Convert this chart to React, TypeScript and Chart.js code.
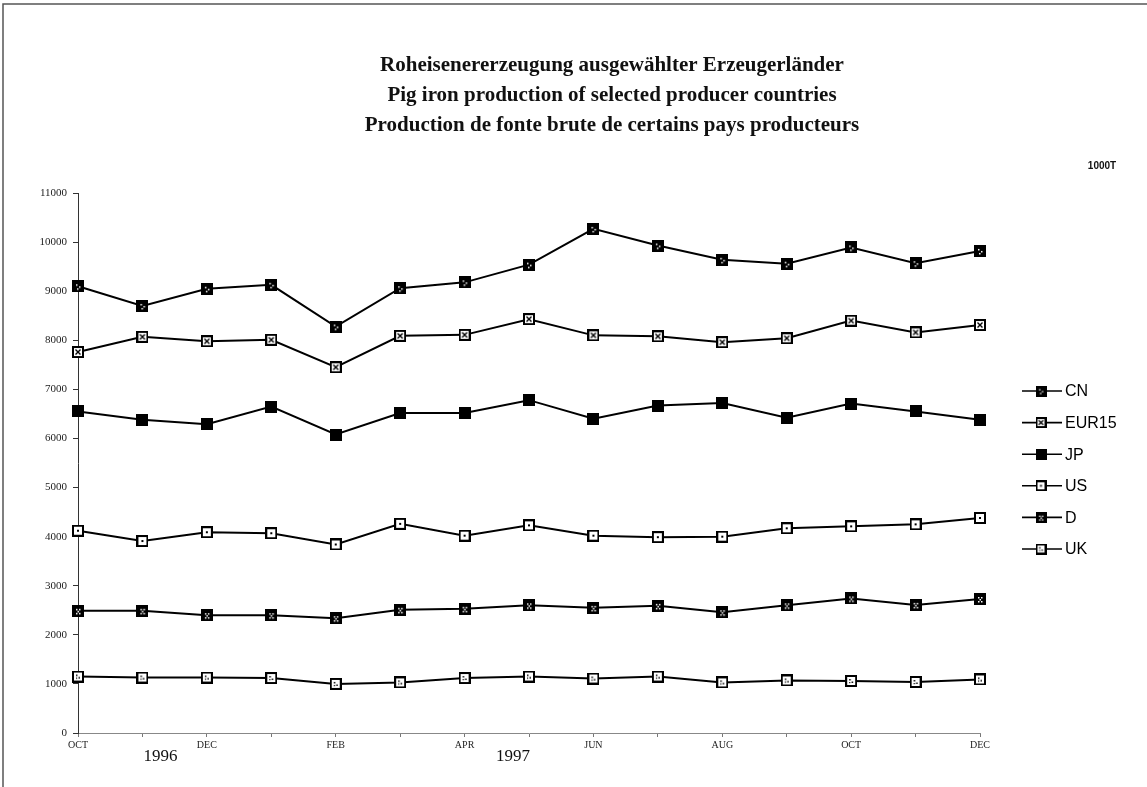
import React, { useEffect, useRef } from "react";
import { Chart, registerables } from "chart.js";

Chart.register(...registerables);

const months = ["OCT", "NOV", "DEC", "JAN", "FEB", "MAR", "APR", "MAY", "JUN", "JUL", "AUG", "SEP", "OCT", "NOV", "DEC"];
const tickLabels = ["OCT", "", "DEC", "", "FEB", "", "APR", "", "JUN", "", "AUG", "", "OCT", "", "DEC"];
const yearLabels = ["1996", "1997"];
const titleLines = [
  "Roheisenererzeugung ausgewählter Erzeugerländer",
  "Pig iron production of selected producer countries",
  "Production de fonte brute de certains pays producteurs",
];
const unitLabel = "1000T";

const seriesNames = ["CN", "EUR15", "JP", "US", "D", "UK"];
const cn = [9100, 8700, 9050, 9130, 8280, 9060, 9180, 9540, 10270, 9930, 9640, 9560, 9890, 9570, 9820];
const eur15 = [7760, 8070, 7980, 8010, 7450, 8090, 8110, 8430, 8100, 8080, 7960, 8040, 8400, 8160, 8310];
const jp = [6550, 6380, 6290, 6650, 6080, 6520, 6520, 6780, 6400, 6670, 6720, 6420, 6710, 6550, 6380];
const us = [4120, 3910, 4090, 4070, 3840, 4260, 4020, 4230, 4020, 3990, 4000, 4170, 4210, 4250, 4380];
const de = [2490, 2490, 2400, 2400, 2340, 2510, 2530, 2600, 2550, 2590, 2460, 2600, 2740, 2610, 2730];
const uk = [1150, 1130, 1130, 1120, 1000, 1030, 1120, 1150, 1110, 1150, 1030, 1070, 1060, 1040, 1090];
const seriesValues = [cn, eur15, jp, us, de, uk];

type Kind = "cn" | "eur" | "jp" | "us" | "de" | "uk";
const kinds: Kind[] = ["cn", "eur", "jp", "us", "de", "uk"];

function makeMarker(kind: Kind, size: number): HTMLCanvasElement {
  const c = document.createElement("canvas");
  c.width = size;
  c.height = size;
  const ctx = c.getContext("2d")!;
  const dark = kind === "cn" || kind === "jp" || kind === "de";
  ctx.fillStyle = "#000";
  ctx.fillRect(0, 0, size, size);
  if (!dark) {
    ctx.fillStyle = "#fff";
    ctx.fillRect(2, 2, size - 4, size - 4);
  }
  const s = size / 12;
  if (kind === "cn") {
    ctx.fillStyle = "#fff";
    ctx.fillRect(4 * s, 4 * s, 1.5 * s, 1.5 * s);
    ctx.fillRect(7 * s, 6 * s, 1.5 * s, 1.5 * s);
    ctx.fillRect(5 * s, 8 * s, 1.5 * s, 1.5 * s);
  } else if (kind === "de") {
    ctx.fillStyle = "#fff";
    ctx.fillRect(4 * s, 4 * s, 1.5 * s, 1.5 * s);
    ctx.fillRect(7 * s, 4 * s, 1.5 * s, 1.5 * s);
    ctx.fillRect(5.5 * s, 6 * s, 1.5 * s, 1.5 * s);
    ctx.fillRect(4 * s, 8 * s, 1.5 * s, 1.5 * s);
    ctx.fillRect(7 * s, 8 * s, 1.5 * s, 1.5 * s);
  } else if (kind === "eur") {
    ctx.strokeStyle = "#000";
    ctx.lineWidth = 1.4 * s;
    ctx.beginPath();
    ctx.moveTo(3.5 * s, 3.5 * s);
    ctx.lineTo(8.5 * s, 8.5 * s);
    ctx.moveTo(8.5 * s, 3.5 * s);
    ctx.lineTo(3.5 * s, 8.5 * s);
    ctx.stroke();
  } else if (kind === "us") {
    ctx.fillStyle = "#000";
    ctx.fillRect(5 * s, 5 * s, 2 * s, 2 * s);
  } else if (kind === "uk") {
    ctx.fillStyle = "#000";
    ctx.fillRect(4 * s, 4 * s, 1.5 * s, 1.5 * s);
    ctx.fillRect(6.5 * s, 6.5 * s, 1.5 * s, 1.5 * s);
    ctx.fillRect(4 * s, 7 * s, 1.2 * s, 1.2 * s);
  }
  return c;
}

const decorPlugin = {
  id: "decor",
  beforeDraw(chart: any) {
    const ctx = chart.ctx;
    ctx.save();
    ctx.fillStyle = "#fff";
    ctx.fillRect(0, 0, chart.width, chart.height);
    ctx.strokeStyle = "#555";
    ctx.lineWidth = 1.5;
    ctx.beginPath();
    ctx.moveTo(3, 787);
    ctx.lineTo(3, 4);
    ctx.lineTo(chart.width, 4);
    ctx.stroke();
    ctx.restore();
  },
  afterDraw(chart: any) {
    const ctx = chart.ctx;
    const area = chart.chartArea;
    const xs = chart.scales.x;
    ctx.save();
    ctx.fillStyle = "#111";
    ctx.textAlign = "center";
    ctx.textBaseline = "middle";
    ctx.font = "bold 21px 'Liberation Serif', 'Times New Roman', serif";
    const cx = 612;
    titleLines.forEach((t, i) => ctx.fillText(t, cx, 66 + i * 30));

    ctx.font = "bold 10px 'Liberation Sans', Arial, sans-serif";
    ctx.fillText(unitLabel, area.right + 122, area.top - 27);

    ctx.font = "17px 'Liberation Serif', 'Times New Roman', serif";
    ctx.fillText(yearLabels[0], xs.getPixelForValue(1.28), area.bottom + 24);
    ctx.fillText(yearLabels[1], xs.getPixelForValue(6.75), area.bottom + 24);

    // legend
    const lx = area.right + 42;
    const ly0 = 391;
    ctx.textAlign = "left";
    ctx.font = "16px 'Liberation Sans', Arial, sans-serif";
    chart.data.datasets.forEach((ds: any, i: number) => {
      const y = ly0 + i * 31.6;
      ctx.strokeStyle = "#000";
      ctx.lineWidth = 1.6;
      ctx.beginPath();
      ctx.moveTo(lx, y);
      ctx.lineTo(lx + 40, y);
      ctx.stroke();
      const m = ds.legendMarker as HTMLCanvasElement;
      ctx.drawImage(m, lx + 19 - m.width / 2, y - m.height / 2);
      ctx.fillStyle = "#000";
      ctx.fillText(ds.label, lx + 43, y + 1);
    });
    ctx.restore();
  },
};

export default function App() {
  const ref = useRef<HTMLCanvasElement | null>(null);
  useEffect(() => {
    if (!ref.current) return;
    const datasets = seriesNames.map((name, i) => ({
      label: name,
      data: seriesValues[i],
      borderColor: "#000",
      backgroundColor: "#000",
      borderWidth: 2,
      pointStyle: makeMarker(kinds[i], 12) as any,
      legendMarker: makeMarker(kinds[i], 11),
      tension: 0,
    }));
    const chart = new Chart(ref.current, {
      type: "line",
      data: { labels: months, datasets: datasets as any },
      options: {
        animation: false,
        responsive: false,
        maintainAspectRatio: false,
        layout: { padding: { left: 30, top: 193, right: 167, bottom: 0 } },
        plugins: {
          legend: { display: false },
          title: { display: false },
          tooltip: { enabled: false },
        },
        scales: {
          x: {
            offset: false,
            afterFit: (s: any) => {
              s.height = 54;
            },
            grid: {
              drawOnChartArea: false,
              tickLength: 4,
              color: "#777",
            },
            border: { display: true, color: "#888", dash: [2, 3], width: 1 },
            ticks: {
              autoSkip: false,
              maxRotation: 0,
              minRotation: 0,
              padding: 2,
              color: "#222",
              font: { family: "'Liberation Serif', 'Times New Roman', serif", size: 10 },
              callback: (_v: any, i: number) => tickLabels[i],
            },
          },
          y: {
            min: 0,
            max: 11000,
            afterFit: (s: any) => {
              s.width = 48;
            },
            grid: {
              drawOnChartArea: false,
              tickLength: 5,
              color: "#333",
            },
            border: { display: true, color: "#333", dash: [4, 2], width: 1 },
            ticks: {
              stepSize: 1000,
              padding: 6,
              color: "#222",
              font: { family: "'Liberation Serif', 'Times New Roman', serif", size: 11 },
              callback: (v: any) => String(v),
            },
          },
        },
      },
      plugins: [decorPlugin],
    });
    return () => chart.destroy();
  }, []);
  return (
    <div style={{ position: "absolute", left: 0, top: 0, width: 1147, height: 787, background: "#fff" }}>
      <canvas ref={ref} width={1147} height={787} style={{ display: "block" }} />
    </div>
  );
}
